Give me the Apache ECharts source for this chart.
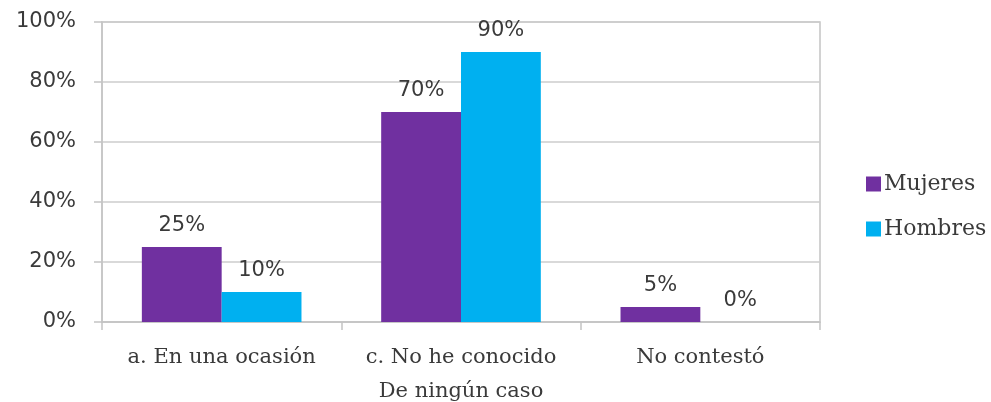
<!DOCTYPE html>
<html><head><meta charset="utf-8">
<script src="https://cdn.jsdelivr.net/npm/echarts@6/dist/echarts.min.js"></script>
<style>html,body{margin:0;padding:0;background:#fff;}#c{width:991px;height:402px;}</style>
</head><body><div id="c"></div>
<script>
const categories = ['a. En una ocasión', 'c. No he conocido\nDe ningún caso', 'No contestó'];
const mujeres = [25, 70, 5];
const hombres = [10, 90, 0];
const yTicks = [0, 20, 40, 60, 80, 100];
const SERIF = 'DejaVu Serif';
const SANS = 'DejaVu Sans';
const TXT = '#3a3a3a';
const chart = echarts.init(document.getElementById('c'));
const lbl = {show: true, position: 'top', formatter: '{c}%', color: TXT, fontFamily: SANS, fontSize: 21, distance: 11};
chart.setOption({
  animation: false,
  grid: {left: 102, right: 171, top: 22, bottom: 80, containLabel: false, outerBoundsMode: 'none',
    show: true, borderColor: '#C4C4C4', borderWidth: 1.5},
  legend: {
    orient: 'vertical', left: 861, top: 168, itemWidth: 15, itemHeight: 15, itemGap: 23,
    icon: 'rect',
    textStyle: {fontFamily: SERIF, fontSize: 22, color: TXT, padding: [0, 0, 0, -2]},
    data: ['Mujeres', 'Hombres']
  },
  xAxis: {
    type: 'category', data: categories,
    axisLine: {lineStyle: {color: '#C4C4C4', width: 1.5}},
    axisTick: {show: true, length: 8, alignWithLabel: false, lineStyle: {color: '#C4C4C4', width: 1.5}},
    axisLabel: {interval: 0, hideOverlap: false, fontFamily: SERIF, fontSize: 21, color: TXT, margin: 19, lineHeight: 34}
  },
  yAxis: {
    type: 'value', min: 0, max: 100, interval: 20,
    axisLine: {show: true, lineStyle: {color: '#C4C4C4', width: 1.5}},
    axisTick: {show: true, length: 8, lineStyle: {color: '#C4C4C4', width: 1.5}},
    splitLine: {lineStyle: {color: '#CCCCCC', width: 1.5}},
    axisLabel: {fontFamily: SANS, fontSize: 21, color: TXT, margin: 26,
      formatter: v => yTicks.includes(v) ? v + '%' : ''}
  },
  series: [
    {name: 'Mujeres', type: 'bar', data: mujeres, barGap: '0%', barCategoryGap: '33.3%',
     itemStyle: {color: '#7030A0'}, label: lbl},
    {name: 'Hombres', type: 'bar', data: hombres, barGap: '0%', barCategoryGap: '33.3%',
     itemStyle: {color: '#00B0F0'}, label: lbl}
  ]
});
</script></body></html>
